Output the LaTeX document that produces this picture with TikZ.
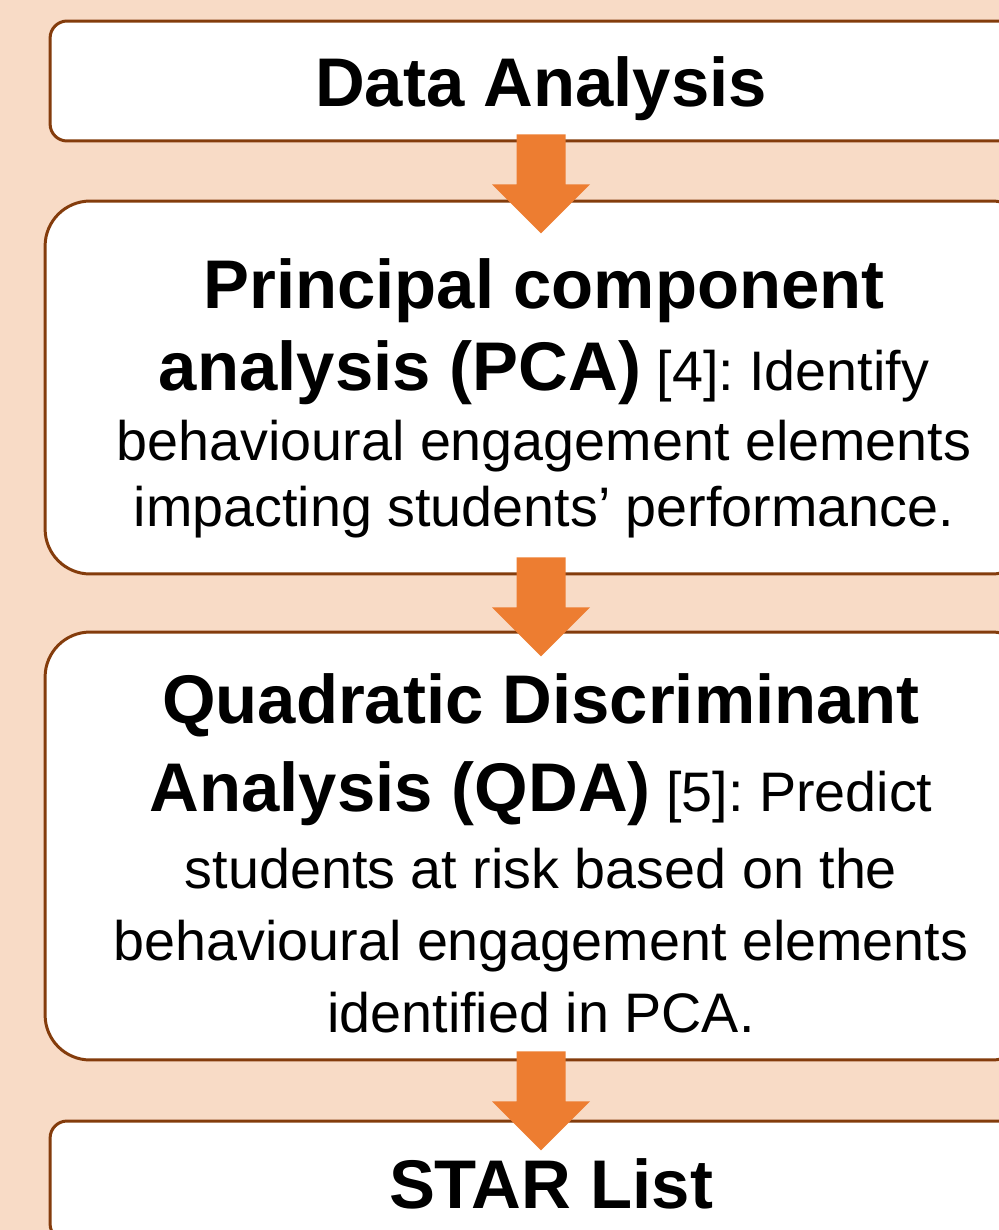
\documentclass[tikz,border=0pt]{standalone}
\usepackage{fontspec}
\setmainfont{Liberation Sans}
\usetikzlibrary{positioning}
\definecolor{PageFill}{RGB}{248,219,198}
\definecolor{BoxBorder}{RGB}{132,60,12}
\definecolor{ArrowFill}{RGB}{237,125,49}
\newcommand{\stagehead}[1]{{\bfseries\fontsize{39.2}{47}\selectfont #1}}

\tikzset{
  stagebox/.style={draw=BoxBorder, line width=1.7pt, fill=white, inner sep=0pt},
  headtext/.style={font=\bfseries\fontsize{39.2}{47}\selectfont, inner sep=0pt},
  bodytext/.style={font=\frenchspacing\fontsize{31.7}{37.6}\selectfont, align=center, inner sep=0pt},
  blockarrow/.pic={
    \fill[ArrowFill] (-24.5,0) -- (24.5,0) -- (24.5,50) -- (49,50) -- (0,99)
      -- (-49,50) -- (-24.5,50) -- cycle;
  }
}

\begin{document}
\begin{tikzpicture}[x=0.02cm, y=-0.02cm]
  \clip (0,0) rectangle (999,1230);
  \fill[PageFill] (0,0) rectangle (999,1230);

  % the four stages
  \node[stagebox, rounded corners=0.34cm, minimum width=19.64cm, minimum height=2.4cm] (da) at (541,81) {};
  \node[stagebox, rounded corners=0.9cm, minimum width=19.84cm, minimum height=7.46cm] (pca) at (541,387.5) {};
  \node[stagebox, rounded corners=0.9cm, minimum width=19.84cm, minimum height=8.56cm] (qda) at (541,846) {};
  \node[stagebox, rounded corners=0.34cm, minimum width=19.64cm, minimum height=2.4cm] (star) at (541,1181) {};

  % arrows between stages
  \path (da.south) ++(0,-8) pic {blockarrow};
  \path (pca.south) ++(0,-18) pic {blockarrow};
  \path (qda.south) ++(0,-10) pic {blockarrow};

  % labels
  \node[headtext, anchor=base] (dalabel) at (541,107) {Data Analysis};
  \node[bodytext, anchor=north] (pcalabel) at (544,258) {%
    \stagehead{Principal component}\\[9.2pt]
    \stagehead{analysis (PCA)} [4]: Identify\\[2.3pt]
    behavioural engagement elements\\
    impacting students’ performance.};
  \node[bodytext, anchor=north, font=\frenchspacing\fontsize{31.7}{41}\selectfont] (qdalabel) at (541,673) {%
    \stagehead{Quadratic Discriminant}\\[9.1pt]
    \stagehead{Analysis (QDA)} [5]: Predict\\[2.8pt]
    students at risk based on the\\
    behavioural engagement elements\\
    identified in PCA.};
  \node[headtext, anchor=base] (starlabel) at (551,1208) {STAR List};
\end{tikzpicture}
\end{document}
